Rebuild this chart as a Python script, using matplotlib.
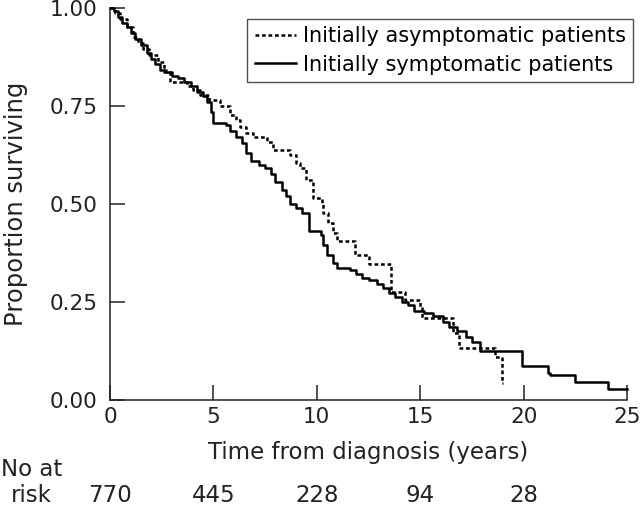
#!/usr/bin/env python3
import matplotlib
matplotlib.use("Agg")
import matplotlib.pyplot as plt
import matplotlib.transforms as mtransforms

# Kaplan-Meier steps (years, proportion surviving)
t_sym = [0, 0.2, 0.4, 0.6, 0.8, 1.0, 1.2, 1.5, 1.8, 2.0, 2.2, 2.4, 2.7, 3.0, 3.3,
         3.6, 3.9, 4.2, 4.5, 4.7, 4.9, 5.0, 5.6, 5.8, 6.1, 6.4, 6.6, 6.8, 7.2, 7.5,
         7.8, 8.0, 8.3, 8.5, 8.7, 9.0, 9.3, 9.6, 10.2, 10.3, 10.5, 10.8, 11.0, 11.6,
         11.9, 12.2, 12.5, 12.9, 13.2, 13.5, 13.8, 14.1, 14.4, 14.7, 15.2, 15.6,
         16.1, 16.4, 16.8, 17.2, 17.5, 17.9, 19.9, 21.2, 21.3, 22.5, 24.1, 25]
s_sym = [1.0, 0.99, 0.975, 0.96, 0.95, 0.935, 0.92, 0.905, 0.885, 0.87, 0.855, 0.84,
         0.835, 0.825, 0.82, 0.81, 0.80, 0.785, 0.775, 0.76, 0.735, 0.705, 0.70,
         0.685, 0.67, 0.655, 0.63, 0.61, 0.60, 0.59, 0.575, 0.555, 0.535, 0.52, 0.50,
         0.49, 0.476, 0.43, 0.42, 0.395, 0.37, 0.35, 0.336, 0.33, 0.32, 0.31, 0.306,
         0.295, 0.285, 0.272, 0.263, 0.25, 0.242, 0.228, 0.222, 0.215, 0.2, 0.187,
         0.175, 0.16, 0.148, 0.125, 0.087, 0.07, 0.064, 0.047, 0.028, 0.028]

t_asym = [0, 0.25, 0.5, 0.8, 1.1, 1.35, 1.6, 1.9, 2.3, 2.6, 2.9, 3.7, 4.0, 4.35,
          4.8, 5.3, 5.8, 6.1, 6.3, 6.6, 6.9, 7.6, 7.9, 8.7, 9.0, 9.2, 9.5, 9.8,
          10.25, 10.3, 10.55, 10.8, 11.0, 11.85, 12.5, 13.6, 14.25, 15.0, 15.1,
          16.6, 16.9, 18.6, 18.95, 19.0]
s_asym = [1.0, 0.985, 0.97, 0.95, 0.925, 0.91, 0.895, 0.88, 0.862, 0.835, 0.81,
          0.80, 0.79, 0.778, 0.765, 0.748, 0.727, 0.713, 0.696, 0.68, 0.67, 0.657,
          0.637, 0.625, 0.604, 0.59, 0.56, 0.515, 0.50, 0.476, 0.45, 0.425, 0.405,
          0.37, 0.347, 0.275, 0.255, 0.238, 0.21, 0.17, 0.132, 0.11, 0.043, 0.043]

risk_years = [0, 5, 10, 15, 20]
risk_counts = ['770', '445', '228', '94', '28']

ink = '#222222'
plt.rcParams['font.family'] = 'DejaVu Sans'
fig = plt.figure(figsize=(6.4, 5.08), dpi=100)
ax = fig.add_axes([110/640, 108/508, 517/640, 392.5/508])

ax.step(t_asym, s_asym, where='post', color='black', linewidth=1.8,
        linestyle=(0, (1.5, 1.1)), label='Initially asymptomatic patients', clip_on=False)
ax.step(t_sym, s_sym, where='post', color='black', linewidth=1.8,
        label='Initially symptomatic patients', clip_on=False)

ax.set_xlim(0, 25)
ax.set_ylim(0, 1)
ax.set_xticks([0, 5, 10, 15, 20, 25])
ax.set_yticks([0, 0.25, 0.5, 0.75, 1.0])
ax.set_yticklabels(['0.00', '0.25', '0.50', '0.75', '1.00'])
ax.tick_params(direction='in', length=11, width=1.1, labelsize=15.5, colors=ink)
ax.tick_params(axis='x', pad=5)
ax.tick_params(axis='y', pad=9)
for side in ['top', 'right']:
    ax.spines[side].set_visible(False)
for side in ['left', 'bottom']:
    ax.spines[side].set_linewidth(1.1)
    ax.spines[side].set_color(ink)

ax.set_xlabel('Time from diagnosis (years)', fontsize=16.5, color=ink)
ax.set_ylabel('Proportion surviving', fontsize=17.5, color=ink)
ax.xaxis.set_label_coords(0.5, -0.104)
ax.yaxis.set_label_coords(-0.158, 0.5)

leg = ax.legend(loc='upper right', bbox_to_anchor=(1.0116, 0.9707), borderaxespad=0,
                fontsize=15, frameon=True, fancybox=False, handlelength=2.0,
                handletextpad=0.3, borderpad=0.35, labelspacing=0.4)
leg.get_frame().set_edgecolor(ink)
leg.get_frame().set_linewidth(1.0)

# numbers at risk under the x axis
trans = mtransforms.blended_transform_factory(ax.transData, fig.transFigure)
for yr, n in zip(risk_years, risk_counts):
    ax.text(yr, 12/508, n, transform=trans, ha='center', va='center',
            fontsize=16.5, color=ink)
fig.text(1/640, 38/508, 'No at', ha='left', va='center', fontsize=16.5, color=ink)
fig.text(52/640, 12/508, 'risk', ha='right', va='center', fontsize=16.5, color=ink)

fig.savefig('out.png', dpi=100)
